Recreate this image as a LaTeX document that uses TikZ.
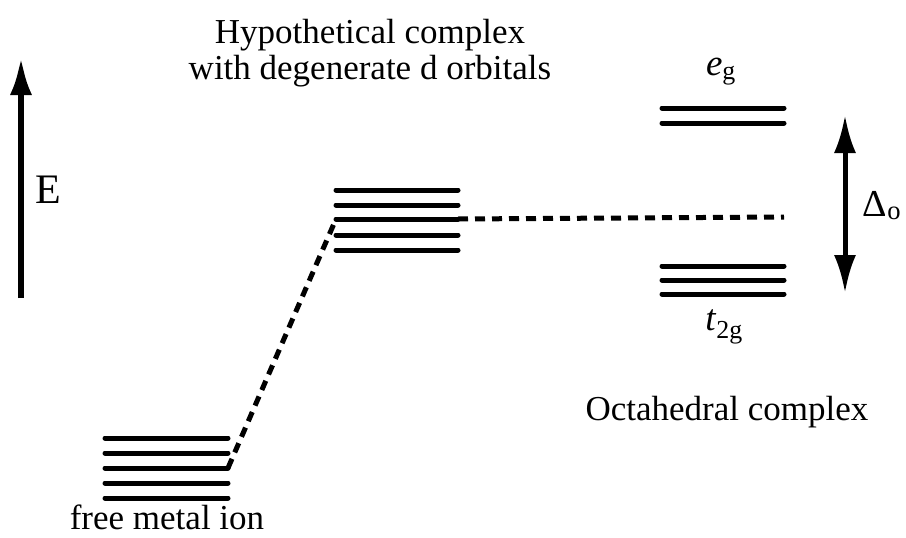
\documentclass[tikz,border=0pt]{standalone}
\usepackage{fontspec}
\setmainfont{Liberation Serif}
\usetikzlibrary{arrows.meta}

\begin{document}
\begin{tikzpicture}[x=1pt,y=-1pt,
  orbital/.style={line width=5pt,line cap=round},
  dashlink/.style={line width=5pt,dash pattern=on 10pt off 7pt},
  lbl/.style={inner sep=0pt,anchor=base,font=\fontsize{35}{36}\selectfont},
  >={Latex[length=38pt,width=22pt]}]

\useasboundingbox (0,0) rectangle (906,538);

%% free metal ion levels
\foreach \i/\y in {1/438,2/453,3/468,4/483,5/498}
{
  \coordinate (free\i w) at (105,\y);
  \coordinate (free\i e) at (228,\y);
  \draw[orbital] (free\i w) -- (free\i e);
}

%% hypothetical complex levels
\foreach \i/\y in {1/190,2/205,3/219,4/235,5/250}
{
  \coordinate (hyp\i w) at (336,\y);
  \coordinate (hyp\i e) at (458,\y);
  \draw[orbital] (hyp\i w) -- (hyp\i e);
}

%% octahedral levels
\foreach \i/\y in {1/108,2/123}
{
  \coordinate (eg\i w) at (662,\y);
  \coordinate (eg\i e) at (784,\y);
  \draw[orbital] (eg\i w) -- (eg\i e);
}
\foreach \i/\y in {1/266,2/280,3/294}
{
  \coordinate (tg\i w) at (662,\y);
  \coordinate (tg\i e) at (784,\y);
  \draw[orbital] (tg\i w) -- (tg\i e);
}

%% dashed links
\coordinate (bary) at (784,217);
\draw[dashlink] (free3e) -- (hyp3w);
\draw[dashlink] (hyp3e) -- (bary);

%% arrows
\coordinate (Elow) at (21,298);
\coordinate (Ehigh) at (21,57);
\draw[line width=6pt,->] (Elow) -- (Ehigh);
\coordinate (dtop) at (845,115);
\coordinate (dbot) at (845,293);
\draw[line width=5pt,<->] (dtop) -- (dbot);

%% labels
\node[lbl,font=\fontsize{42}{44}\selectfont] (Elbl) at (48,203) {E};
\node[lbl,anchor=north,align=center] (hyplbl) at (370,19)
  {Hypothetical complex\\with degenerate d orbitals};
\node[lbl,font=\fontsize{37}{40}\selectfont] (eglbl) at (721,75) {\textit{e}\textsubscript{g}};
\node[lbl,font=\fontsize{37}{40}\selectfont] (tglbl) at (724,330) {\textit{t}\textsubscript{2g}};
\node[lbl,font=\fontsize{38}{40}\selectfont] (dlbl) at (882,216) {Δ\textsubscript{o}};
\node[lbl] (octlbl) at (727,420) {Octahedral complex};
\node[lbl] (freelbl) at (167,529) {free metal ion};

\end{tikzpicture}
\end{document}
